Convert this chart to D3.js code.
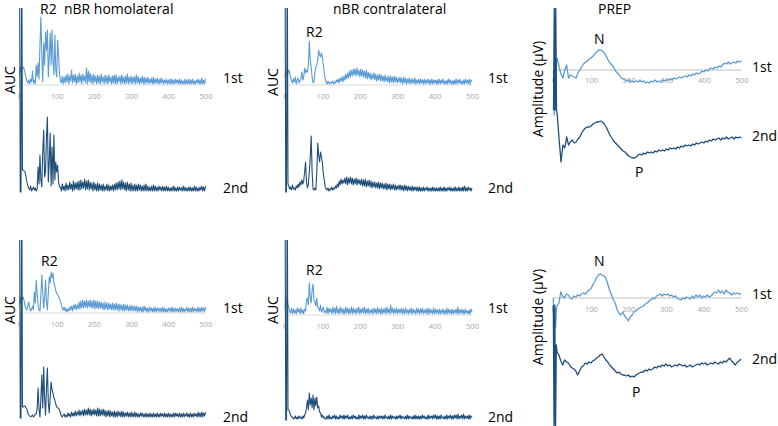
<!DOCTYPE html>
<html><head><meta charset="utf-8">
<script src="https://cdn.jsdelivr.net/npm/d3@7"></script>
<style>
html,body{margin:0;padding:0;background:#fff;}
svg{display:block;}
text{font-family:"Open Sans",sans-serif;white-space:pre;}
</style></head>
<body>
<svg id="c" width="778" height="426"></svg>
<script>
// ---------- DATA ----------
// sampling times (ms): fine samples over the stimulus artifact, then regular steps
const timesAUC  = [0, 2, 4, 6, 8].concat(d3.range(10, 500.01, 2.5));
const timesPREP = [0, 2, 4, 6, 8].concat(d3.range(10, 500.01, 5));
const xTicks = [0, 100, 200, 300, 400, 500];
const traceLabels = ["1st", "2nd"];

// nBR homolateral (top) - AUC, 2.5 ms steps after artifact
const homoTop1 = [10,18,14,17,16,
 18,16,12,7,4,2,5,1,6,3,14,2,5,1,20,8,22,6,40,68,
 30,3,42,20,53,35,55,8,30,52,20,55,25,10,50,15,8,45,30,12,
 4,2,9,1,8,2,10,3,11,1,9,4,15,2,10,3,11,1,9,2,
 12,3,10,1,11,4,9,2,17,1,14,3,12,2,10,1,11,3,9,1,
 10,2,9,1,11,3,8,1,10,2,9,1,10,3,8,1,9,2,10,1,
 10,1,8,3,9,1,10,2,8,1,9,2,11,1,8,2,9,1,8,2,
 9,1,10,2,8,1,7,2,9,1,8,1,7,2,8,1,6,2,7,1,
 8,1,6,2,7,1,6,1,7,2,6,1,5,2,6,1,5,1,6,1,
 6,1,5,1,6,2,5,1,6,1,5,1,4,1,6,1,5,1,6,1,
 5,1,6,1,4,1,5,2,6,1,5,1,7,1,5,1,6];
const homoTop2 = [250,0,0,250,22,
 22,21,20,15,10,6,4,2,6,1,3,5,2,4,1,3,25,8,37,12,
 5,40,62,15,20,55,75,10,30,59,6,45,8,57,12,30,20,27,10,5,
 5,1,8,2,6,1,9,2,7,2,10,3,8,1,11,2,9,3,10,2,
 11,2,12,3,10,4,13,2,11,3,12,2,10,3,9,1,10,2,8,1,
 9,1,8,2,7,1,8,1,6,2,8,1,7,1,6,2,7,1,8,2,
 9,2,10,3,11,2,12,3,10,2,9,1,10,2,8,1,9,1,7,1,
 8,1,7,1,8,2,7,1,6,1,7,1,8,1,6,1,5,1,6,1,
 7,1,6,1,5,1,6,2,5,1,6,1,5,1,6,1,5,1,4,1,
 5,1,6,1,4,1,5,1,5,2,4,1,6,1,5,1,4,1,5,1,
 5,1,4,1,6,1,5,1,4,1,5,2,6,1,5,1,6];
// nBR contralateral (top)
const contraTop1 = [8,15,10,14,12,
 15,12,8,4,2,6,3,8,1,5,7,2,4,6,13,5,8,17,12,15,
 13,20,44,25,18,8,2,4,12,18,20,25,35,30,28,32,28,20,12,6,
 3,1,4,2,1,3,2,4,1,3,2,5,3,6,2,7,4,8,3,9,
 5,11,6,12,7,14,8,15,9,16,10,16,9,17,10,15,8,16,9,15,
 8,14,7,15,6,13,7,12,5,11,6,12,5,11,4,10,5,11,4,10,
 4,9,3,10,4,8,3,9,2,9,3,8,2,9,3,8,2,7,3,8,
 2,7,1,8,2,7,1,6,2,7,1,6,2,6,1,7,1,5,2,6,
 1,6,2,5,1,6,1,5,2,6,1,5,1,6,1,5,2,5,1,5,
 1,6,1,5,2,6,1,4,1,5,1,6,2,5,1,4,1,5,1,6,
 1,5,2,6,1,4,1,5,1,6,2,5,1,6,1,5,4];
const contraTop2 = [250,0,0,250,8,
 6,3,5,2,7,3,4,2,6,4,8,5,10,7,12,8,11,20,30,10,
 4,8,20,35,56,20,3,2,4,2,20,49,37,30,40,35,29,18,12,5,
 3,2,4,1,3,2,5,2,4,3,6,4,8,5,11,7,13,8,12,9,
 14,8,15,7,14,9,15,8,14,7,13,8,14,7,13,8,12,7,13,6,
 12,6,13,5,11,6,12,5,11,4,10,5,10,4,9,4,10,3,9,4,
 9,3,8,3,9,2,8,3,8,2,7,3,8,2,7,2,6,3,7,2,
 7,2,6,1,7,2,6,1,6,2,5,1,6,1,5,2,5,1,5,1,
 5,1,4,1,5,1,4,2,5,1,4,1,4,1,5,1,4,1,4,1,
 4,1,5,1,4,1,5,1,4,1,4,2,5,1,4,1,4,1,5,1,
 4,1,5,1,4,1,5,1,6,1,4,1,5,2,4,1,4];
// PREP (top) - amplitude, 5 ms steps after artifact
const prepTop1 = [0,-45,8,-40,10,
 12,3,-4,-8,0,5,-8,-5,-6,-7,
 -8,-3,0,3,6,8,9,11,12,14,
 16,18,20,20,19,17,14,10,7,5,
 3,-1,-3,-5,-8,-9,-10,-11,-10,-12,
 -11,-12,-11,-12,-10,-12,-11,-13,-12,-13,
 -11,-12,-10,-12,-11,-12,-10,-11,-10,-10,
 -9,-10,-8,-9,-8,-7,-8,-7,-6,-7,
 -5,-6,-4,-5,-3,-4,-3,-1,-2,0,
 -1,1,2,1,3,2,4,3,5,7,
 6,8,6,7,8,7,9,8,9];
const prepTop2 = [30,132,30,132,30,
 25,0,-22,-5,-8,3,-5,-2,0,-3,
 -2,1,3,7,10,12,13,13,14,16,
 17,18,18,19,18,16,13,9,5,2,
 -1,-3,-5,-7,-9,-11,-12,-14,-16,-17,
 -18,-18,-17,-15,-14,-15,-13,-14,-12,-13,
 -12,-13,-11,-12,-10,-11,-10,-11,-9,-10,
 -8,-9,-8,-9,-7,-8,-6,-7,-5,-6,
 -5,-6,-4,-5,-3,-4,-3,-2,-3,-1,
 -2,0,-1,1,0,1,2,0,2,1,
 3,1,2,3,1,3,2,3,2];
// nBR homolateral (bottom)
const homoBot1 = [8,16,10,15,14,
 16,12,7,4,3,8,11,5,2,4,7,3,21,10,33,20,8,3,2,18,
 38,20,5,15,33,12,3,20,36,30,41,35,40,30,27,22,20,18,17,14,
 12,8,5,3,6,2,5,1,4,2,6,3,7,2,8,4,9,3,8,4,
 11,4,12,5,13,5,12,6,13,5,12,6,13,5,12,5,13,4,12,5,
 12,4,11,5,11,4,10,3,11,4,10,3,10,4,9,3,10,3,9,3,
 10,3,9,2,9,3,8,2,9,2,8,3,8,2,7,2,8,2,7,2,
 7,2,7,1,6,2,6,1,6,1,7,2,6,1,5,1,6,2,5,1,
 5,1,6,1,5,2,5,1,5,1,6,1,5,1,4,1,5,2,5,1,
 6,1,5,1,5,2,4,1,5,1,6,1,5,1,4,2,6,1,5,1,
 5,1,6,1,5,2,4,1,6,1,5,1,6,2,5,1,6];
const homoBot2 = [250,0,0,250,11,
 11,12,12,10,9,5,3,2,1,2,3,1,2,4,4,10,30,8,1,20,
 43,10,51,20,3,30,50,15,5,20,36,28,25,20,18,14,11,10,10,8,
 5,2,1,3,4,1,3,1,5,2,4,1,6,2,5,2,7,2,6,3,
 8,2,7,3,8,2,9,3,8,3,10,3,9,2,8,3,9,3,8,2,
 10,2,9,2,8,3,9,2,8,1,7,2,8,1,7,2,6,1,7,1,
 6,1,7,2,6,1,7,1,6,1,5,2,6,1,5,1,6,1,5,1,
 6,1,5,1,4,1,5,2,5,1,4,1,5,1,4,1,5,1,4,1,
 5,1,4,1,5,1,4,1,5,2,4,1,5,1,4,1,5,1,4,1,
 4,1,5,1,5,2,4,1,5,1,4,1,5,1,4,2,5,1,4,1,
 5,1,4,1,5,2,4,1,6,1,5,1,6,1,5,2,6];
// nBR contralateral (bottom)
const contraBot1 = [6,17,10,15,10,
 8,3,2,7,1,6,2,5,1,7,3,6,1,7,2,5,1,6,4,15,
 17,10,32,18,12,25,31,15,13,9,17,8,7,4,10,3,5,8,2,4,
 2,8,1,7,3,6,1,8,2,7,1,9,2,6,1,8,2,7,1,6,
 1,8,2,7,1,6,2,8,1,7,2,6,1,7,2,8,1,6,2,7,
 2,8,1,6,2,7,1,5,2,6,1,7,2,6,1,8,2,6,1,7,
 1,6,2,7,1,8,2,6,1,10,2,7,1,6,2,7,1,6,2,6,
 2,7,1,6,1,7,2,5,1,6,2,7,1,6,2,5,1,7,2,6,
 1,6,2,7,1,5,2,6,1,7,1,6,2,5,1,7,1,6,2,5,
 1,6,1,5,2,6,1,5,1,7,1,6,2,5,1,6,1,5,2,6,
 1,8,1,5,2,6,1,5,1,6,2,4,1,5,1,6,3];
const contraBot2 = [250,0,0,250,10,
 10,8,5,3,3,1,2,4,1,3,1,4,2,3,1,4,2,5,7,12,
 20,10,27,15,22,12,25,10,22,14,23,12,14,8,7,3,5,2,3,1,
 1,4,1,5,1,3,1,4,2,5,1,4,1,3,1,5,2,4,1,5,
 1,4,2,5,1,3,1,4,1,5,2,4,1,3,1,5,1,4,2,5,
 1,4,1,5,2,3,1,4,1,4,1,5,2,3,1,4,1,4,2,4,
 1,4,1,5,2,3,1,4,1,5,1,4,2,3,1,4,1,4,2,5,
 1,4,2,3,1,4,1,5,1,4,2,3,1,4,1,5,1,4,1,4,
 1,4,1,5,2,4,1,3,1,5,1,4,2,4,1,5,2,5,1,4,
 1,4,1,5,2,3,1,4,1,5,1,4,2,5,1,4,1,5,2,5,
 1,6,1,4,2,5,1,6,1,4,2,4,1,5,1,4,3];
// PREP (bottom)
const prepBot1 = [0,-30,-10,-30,-12,
 -8,-5,6,2,0,4,3,0,-1,2,
 1,3,2,4,5,4,6,8,9,13,
 16,20,23,24,23,22,20,14,8,3,
 -2,-5,-12,-15,-17,-14,-18,-20,-23,-19,
 -17,-14,-13,-11,-10,-9,-8,-6,-5,-3,
 -2,0,-1,2,3,4,2,4,3,4,
 2,3,1,2,0,-1,-2,0,-1,1,
 0,-1,2,0,3,1,3,0,2,1,
 3,1,2,4,6,5,8,5,7,4,
 8,6,5,3,5,4,5,4,4];
const prepBot2 = [60,-65,60,-65,20,
 13,10,4,0,5,3,2,-1,-3,-4,
 -6,-10,-6,-2,-1,2,1,3,2,4,
 5,7,8,10,11,8,5,3,0,-2,
 -4,-6,-8,-7,-9,-10,-10,-11,-10,-12,
 -11,-12,-10,-9,-8,-7,-7,-5,-6,-4,
 -5,-4,-2,-3,-1,-2,0,-1,1,-1,
 0,-2,-1,0,-1,1,0,-1,0,-2,
 -1,0,-2,-1,0,1,0,2,1,2,
 0,1,2,1,3,2,1,3,2,4,
 3,5,7,4,2,0,3,4,6];

// ---------- LAYOUT ----------
const colors = ["#5b9bd5", "#1f4e79"];
const svg = d3.select("#c");
const defs = svg.append("defs");
defs.append("clipPath").attr("id","clipTop").append("rect").attr("x",0).attr("y",8).attr("width",778).attr("height",205);
defs.append("clipPath").attr("id","clipBot").append("rect").attr("x",0).attr("y",240).attr("width",778).attr("height",186);

const panels = [
 {kind:"auc", x:[19.5,205.5], b:[85,192], tickY:97, clip:"clipTop", d:[homoTop1,homoTop2],
  lab:[[223,83],[223,193]], ylab:[10,80]},
 {kind:"auc", x:[285,472], b:[85,192], tickY:97, clip:"clipTop", d:[contraTop1,contraTop2],
  lab:[[488,83],[488,193]], ylab:[273,82]},
 {kind:"prep", x:[553.5,741.5], b:[70,140], tickY:81, clip:"clipTop", d:[prepTop1,prepTop2],
  lab:[[752,72],[752,141]], ylab:[538,89]},
 {kind:"auc", x:[19.5,205.5], b:[313,418], tickY:324.5, clip:"clipBot", d:[homoBot1,homoBot2],
  lab:[[223,313],[223,422]], ylab:[10,310]},
 {kind:"auc", x:[285,472], b:[315,420], tickY:327, clip:"clipBot", d:[contraBot1,contraBot2],
  lab:[[488,313],[488,422]], ylab:[273,310]},
 {kind:"prep", x:[553.3,741], b:[298,365], tickY:310, clip:"clipBot", d:[prepBot1,prepBot2],
  lab:[[752,299],[752,364]], ylab:[538,317]}
];

panels.forEach(p => {
  const g = svg.append("g");
  const x = d3.scaleLinear().domain([0,500]).range(p.x);
  const ys = p.b.map(b => d3.scaleLinear().domain([0,100]).range([b, b-100]));
  const times = p.kind === "prep" ? timesPREP : timesAUC;

  // baseline / zero line
  g.append("line").attr("x1",x(0)).attr("x2",x(500)).attr("y1",ys[0](0)).attr("y2",ys[0](0))
   .attr("stroke", p.kind==="prep" ? "#bfbfbf" : "#d9d9d9").attr("stroke-width",1);

  // tick labels
  const ax = d3.axisBottom(x).tickValues(xTicks).tickSize(0).tickPadding(0).tickFormat(d3.format("d"));
  const ag = g.append("g").attr("transform",`translate(0,${p.tickY-3})`).call(ax);
  ag.select(".domain").remove();
  ag.selectAll("text").attr("fill","#a6a6a6").style("font-size","7.5px").style("font-family","'Open Sans',sans-serif");

  // traces
  p.d.forEach((vals,i) => {
    const line = d3.line().defined((v,k)=>k<times.length).x((v,k)=>x(times[k])).y(v=>ys[i](v));
    g.append("path").datum(vals).attr("d",line).attr("fill","none")
     .attr("stroke",colors[i]).attr("stroke-width", p.kind==="prep" ? 1.3 : 1.1).attr("stroke-linejoin","round")
     .attr("clip-path",`url(#${p.clip})`);
  });

  // trace labels
  p.lab.forEach((l,i) => {
    g.append("text").attr("x",l[0]).attr("y",l[1]).text(traceLabels[i])
     .style("font-size","14px").attr("fill","#000");
  });

  // y label
  g.append("text").attr("transform",`translate(${p.ylab[0]},${p.ylab[1]}) rotate(-90)`)
   .attr("text-anchor","middle").attr("dy","0.35em")
   .style("font-size","14px").text(p.kind==="prep" ? "Amplitude (µV)" : "AUC");
});

// titles and component labels
const notes = [
  ["R2  nBR homolateral", 40, 13.5],
  ["nBR contralateral", 333, 13.5],
  ["PREP", 598, 13.5],
  ["R2", 306, 37],
  ["N", 594, 44],
  ["P", 635, 177],
  ["R2", 41, 266],
  ["R2", 306, 275],
  ["N", 594, 266],
  ["P", 632, 397]
];
notes.forEach(n => {
  svg.append("text").attr("x",n[1]).attr("y",n[2]).text(n[0]).style("font-size","14px").attr("fill","#000");
});
</script>
</body></html>
